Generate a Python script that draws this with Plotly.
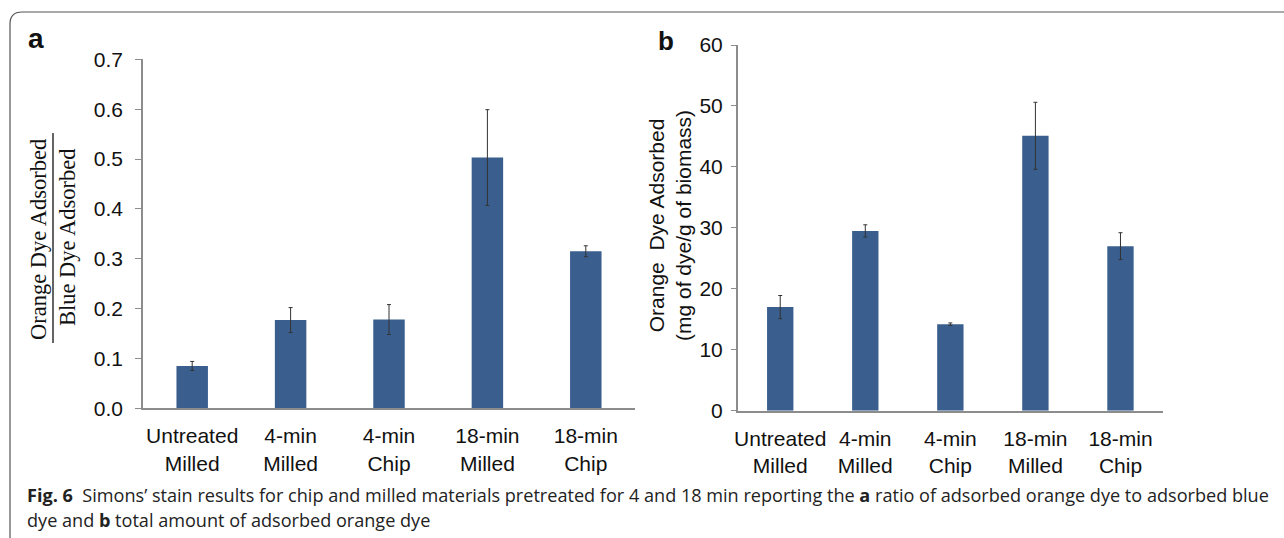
import plotly.graph_objects as go

W, H = 1284, 538

categories = ["Untreated<br>Milled", "4-min<br>Milled", "4-min<br>Chip", "18-min<br>Milled", "18-min<br>Chip"]
ratio_values = [0.085, 0.177, 0.178, 0.503, 0.315]
ratio_errors = [0.009, 0.025, 0.030, 0.096, 0.011]
orange_values = [17.0, 29.5, 14.2, 45.1, 27.0]
orange_errors = [1.9, 1.0, 0.2, 5.5, 2.2]

a_ticks = [0.0, 0.1, 0.2, 0.3, 0.4, 0.5, 0.6, 0.7]
b_ticks = [0, 10, 20, 30, 40, 50, 60]

BAR = "#3A5F8E"
AXC = "#8c8c8c"
FONT = "Liberation Sans, Arial, sans-serif"

def px(x):
    return x / W

def py(y):
    return 1 - y / H

fig = go.Figure()
fig.add_trace(go.Bar(x=categories, y=ratio_values, width=0.32, marker_color=BAR,
                     marker_line_width=0,
                     error_y=dict(type="data", array=ratio_errors, color="#333333", thickness=1, width=2),
                     xaxis="x", yaxis="y", showlegend=False))
fig.add_trace(go.Bar(x=categories, y=orange_values, width=0.31, marker_color=BAR,
                     marker_line_width=0,
                     error_y=dict(type="data", array=orange_errors, color="#333333", thickness=1, width=2),
                     xaxis="x2", yaxis="y2", showlegend=False))

tickfont = dict(family=FONT, size=21, color="#111111")

fig.update_layout(
    width=W, height=H,
    margin=dict(l=0, r=0, t=0, b=0, autoexpand=False),
    paper_bgcolor="white", plot_bgcolor="white",
    xaxis=dict(domain=[px(143), px(635)], anchor="y", type="category", range=[-0.5, 4.5],
               showline=True, linecolor=AXC, linewidth=1.5, ticks="", tickfont=tickfont,
               showgrid=False, zeroline=False, ticklabelstandoff=8, automargin=False),
    yaxis=dict(domain=[py(408.3), py(59.3)], anchor="x", range=[0, 0.7],
               tickvals=a_ticks, tickformat=".1f",
               showline=True, linecolor=AXC, linewidth=1.5, ticks="outside", ticklen=6,
               tickcolor=AXC, tickfont=tickfont, showgrid=False, zeroline=False,
               ticklabelstandoff=8, automargin=False),
    xaxis2=dict(domain=[px(737.7), px(1163)], anchor="y2", type="category", range=[-0.5, 4.5],
                showline=True, linecolor=AXC, linewidth=1.5, ticks="", tickfont=tickfont,
                showgrid=False, zeroline=False, ticklabelstandoff=8, automargin=False),
    yaxis2=dict(domain=[py(410.7), py(45)], anchor="x2", range=[0, 60],
                tickvals=b_ticks,
                showline=True, linecolor=AXC, linewidth=1.5, ticks="outside", ticklen=5,
                tickcolor=AXC, tickfont=tickfont, showgrid=False, zeroline=False,
                ticklabelstandoff=4, automargin=False),
    bargap=0.68,
)

serif = dict(family="Liberation Serif, Times New Roman, serif", size=22.5, color="#111111")
CAP = dict(family="Open Sans, sans-serif", size=18.1, color="#222222")
annotations = [
    dict(text="<b>a</b>", x=px(26), y=py(39), xanchor="left", yanchor="middle",
         font=dict(family=FONT, size=28, color="#111111")),
    dict(text="<b>b</b>", x=px(656), y=py(41.5), xanchor="left", yanchor="middle",
         font=dict(family=FONT, size=26, color="#111111")),
    dict(text="Orange Dye Adsorbed", x=px(38), y=py(240), textangle=-90,
         xanchor="center", yanchor="middle", font=serif),
    dict(text="Blue Dye Adsorbed", x=px(67), y=py(238), textangle=-90,
         xanchor="center", yanchor="middle", font=serif),
    dict(text="Orange  Dye Adsorbed<br>(mg of dye/g of biomass)", x=px(670), y=py(226),
         textangle=-90, xanchor="center", yanchor="middle",
         font=dict(family=FONT, size=21, color="#111111")),
    dict(text="<b>Fig. 6</b>  Simons\u2019 stain results for chip and milled materials pretreated for 4 and 18 min reporting the <b>a</b> ratio of adsorbed orange dye to adsorbed blue",
         x=px(25), y=py(495), xanchor="left", yanchor="middle", font=CAP),
    dict(text="dye and <b>b</b> total amount of adsorbed orange dye",
         x=px(25), y=py(520), xanchor="left", yanchor="middle", font=CAP),
]
for a in annotations:
    a.update(xref="paper", yref="paper", showarrow=False)
fig.update_layout(annotations=annotations)

x0, y0, r = px(10), py(12), 12
border = (f"M {x0},{-0.02} L {x0},{py(12 + r)} Q {x0},{y0} {px(10 + r)},{y0} L 1.02,{y0}")
fig.add_shape(type="path", path=border, xref="paper", yref="paper",
              line=dict(color="#555555", width=1.2))
fig.add_shape(type="line", x0=px(53), x1=px(53), y0=py(343), y1=py(133),
              xref="paper", yref="paper", line=dict(color="#111111", width=1.3))

fig.write_html("out.html")
